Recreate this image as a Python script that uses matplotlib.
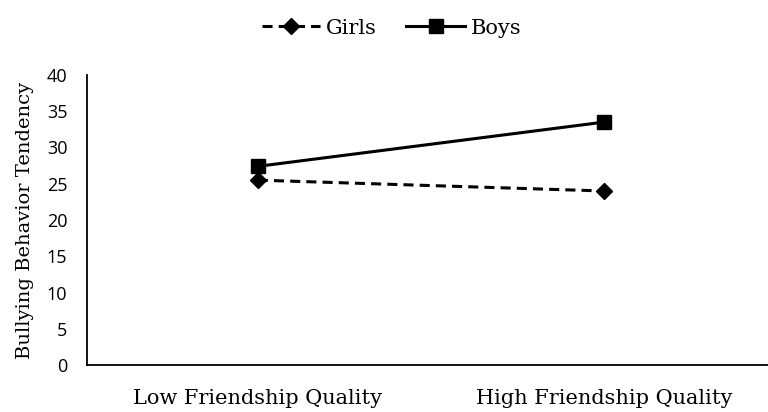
import matplotlib
matplotlib.use("Agg")
import matplotlib.pyplot as plt

categories = ["Low Friendship Quality", "High Friendship Quality"]
girls = [25.5, 24.0]
boys = [27.4, 33.5]
y_ticks = [0, 5, 10, 15, 20, 25, 30, 35, 40]

serif = ["DejaVu Serif"]
sans = ["Open Sans", "DejaVu Sans"]

fig = plt.figure(figsize=(7.68, 4.12), dpi=100)
ax = fig.add_axes([0.113, 0.114, 0.887, 0.704])

x = range(len(categories))
ax.plot(x, girls, color="black", linestyle=(0, (3.3, 2.0)), linewidth=2.2,
        marker="D", markersize=8.5, label="Girls")
ax.plot(x, boys, color="black", linestyle="-", linewidth=2.2,
        marker="s", markersize=9.5, label="Boys")

ax.set_xlim(-0.494, 1.474)
ax.set_ylim(0, 40)
ax.set_yticks(y_ticks)
ax.set_xticks(list(x))
ax.set_xticklabels(categories, fontfamily=serif, fontsize=15)
for lbl in ax.get_yticklabels():
    lbl.set_fontfamily(sans)
    lbl.set_fontsize(13)
ax.tick_params(length=0)
ax.tick_params(axis="x", pad=17)
ax.tick_params(axis="y", pad=14)

ax.spines["top"].set_visible(False)
ax.spines["right"].set_visible(False)
ax.spines["left"].set_linewidth(1.3)
ax.spines["bottom"].set_linewidth(1.3)

ax.set_ylabel("Bullying Behavior Tendency", fontfamily=serif, fontsize=14, labelpad=9)

fig.legend(loc="upper center", bbox_to_anchor=(0.51, 1.0), ncol=2, frameon=False,
           prop={"family": serif, "size": 15}, handlelength=2.8, columnspacing=1.4,
           handletextpad=0.3)

fig.savefig("out.png", dpi=100)
